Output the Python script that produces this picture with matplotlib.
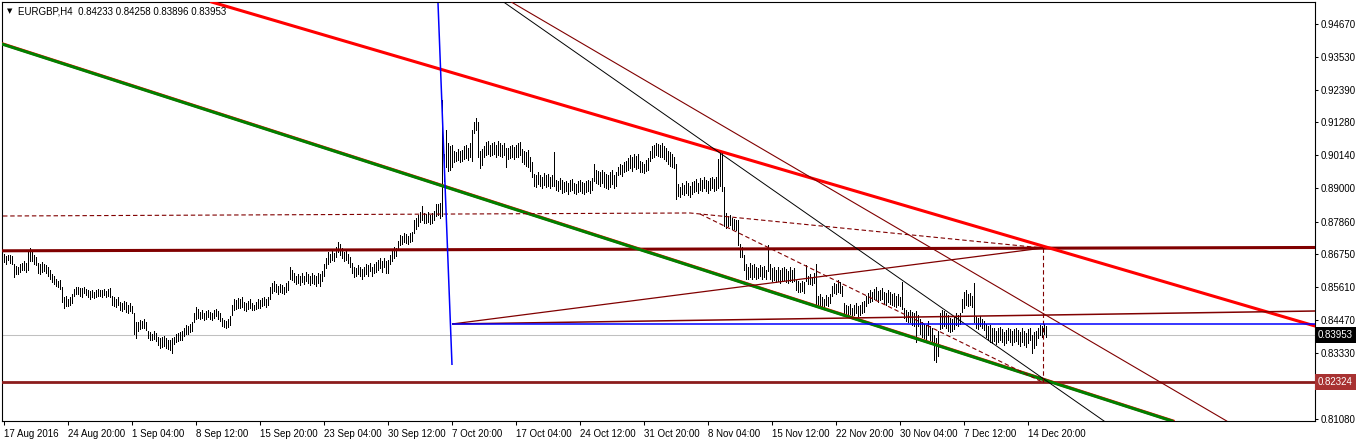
import numpy as np
import matplotlib
matplotlib.use("Agg")
import matplotlib.pyplot as plt
import matplotlib.transforms as mtransforms

plt.rcParams['font.family'] = ['Liberation Sans', 'DejaVu Sans']

# --- data (prices x 1e4), one H4 bar per entry ---
symbol = "EURGBP,H4"
last_ohlc = [0.84233, 0.84258, 0.83896, 0.83953]

highs = [
    8675, 8668, 8672, 8670, 8668, 8640, 8632, 8630, 8640, 8645,
    8650, 8642, 8680, 8695, 8680, 8672, 8665, 8645, 8640, 8648,
    8640, 8638, 8630, 8620, 8605, 8600, 8590, 8582, 8585, 8560,
    8525, 8530, 8520, 8528, 8535, 8555, 8562, 8560, 8556, 8558,
    8562, 8555, 8550, 8548, 8552, 8545, 8550, 8555, 8552, 8550,
    8555, 8548, 8553, 8556, 8530, 8525, 8520, 8528, 8510, 8505,
    8512, 8508, 8500, 8505, 8495, 8470, 8440, 8440, 8447, 8445,
    8450, 8440, 8410, 8405, 8400, 8408, 8402, 8390, 8385, 8388,
    8392, 8385, 8380, 8378, 8385, 8390, 8398, 8402, 8405, 8410,
    8420, 8430, 8425, 8435, 8440, 8470, 8492, 8485, 8475, 8480,
    8470, 8478, 8482, 8475, 8470, 8480, 8484, 8478, 8470, 8455,
    8448, 8445, 8450, 8460, 8500, 8520, 8515, 8522, 8518, 8525,
    8510, 8505, 8512, 8518, 8506, 8500, 8510, 8520, 8515, 8522,
    8528, 8520, 8525, 8560, 8575, 8580, 8570, 8565, 8572, 8568,
    8560, 8575, 8580, 8630, 8620, 8610, 8600, 8605, 8598, 8608,
    8600, 8612, 8605, 8600, 8608, 8602, 8598, 8610, 8605, 8615,
    8640, 8660, 8680, 8675, 8685, 8678, 8700, 8716, 8708, 8695,
    8680, 8685, 8675, 8665, 8645, 8630, 8625, 8635, 8630, 8622,
    8628, 8640, 8635, 8645, 8630, 8640, 8648, 8655, 8660, 8650,
    8662, 8650, 8655, 8670, 8685, 8700, 8695, 8720, 8740, 8735,
    8748, 8742, 8738, 8745, 8750, 8792, 8800, 8810, 8820, 8840,
    8815, 8812, 8818, 8808, 8815, 8822, 8848, 8845, 8850, 9205,
    9020, 9100, 9055, 9045, 9050, 9030, 9025, 9035, 9028, 9032,
    9045, 9050, 9040, 9055, 9100, 9130, 9143, 9128, 9030, 9035,
    9045, 9060, 9065, 9050, 9055, 9060, 9050, 9062, 9058, 9048,
    9055, 9040, 9040, 9045, 9050, 9042, 9048, 9055, 9060, 9035,
    9030, 9025, 9032, 9010, 8990, 8950, 8945, 8955, 8948, 8940,
    8952, 8945, 8950, 8940, 8948, 9025, 8930, 8925, 8935, 8928,
    8922, 8925, 8918, 8928, 8932, 8920, 8915, 8925, 8930, 8922,
    8918, 8926, 8930, 8924, 8935, 8985, 8965, 8960, 8955, 8965,
    8958, 8950, 8945, 8955, 8962, 8948, 8955, 8975, 8985, 8980,
    8990, 8995, 9005, 9015, 9010, 9020, 9012, 9018, 8995, 8990,
    8985, 8998, 9005, 9030, 9045, 9050, 9057, 9052, 9048, 9055,
    9045, 9040, 9030, 9025, 9020, 9010, 8985, 8915, 8905, 8920,
    8912, 8925, 8918, 8910, 8922, 8925, 8932, 8920, 8935, 8928,
    8938, 8930, 8925, 8935, 8940, 8932, 8938, 9000, 9033, 9025,
    8905, 8815, 8805, 8810, 8800, 8795, 8790, 8790, 8710, 8700,
    8670, 8640, 8630, 8645, 8635, 8640, 8630, 8625, 8635, 8628,
    8632, 8620, 8705, 8640, 8625, 8630, 8620, 8628, 8618, 8625,
    8630, 8622, 8615, 8628, 8620, 8626, 8585, 8580, 8575, 8582,
    8578, 8637, 8600, 8605, 8595, 8608, 8640, 8530, 8535, 8525,
    8520, 8532, 8528, 8538, 8565, 8575, 8570, 8585, 8578, 8565,
    8505, 8500, 8495, 8502, 8490, 8498, 8505, 8495, 8500, 8508,
    8512, 8530, 8540, 8550, 8545, 8555, 8560, 8548, 8552, 8558,
    8545, 8540, 8550, 8545, 8538, 8540, 8530, 8535, 8528, 8578,
    8490, 8480, 8475, 8482, 8475, 8470, 8478, 8465, 8450, 8440,
    8435, 8430, 8445, 8425, 8420, 8395, 8385, 8410, 8470, 8480,
    8478, 8470, 8465, 8455, 8450, 8462, 8470, 8465, 8472, 8520,
    8545, 8550, 8535, 8540, 8530, 8575, 8460, 8455, 8462, 8450,
    8445, 8435, 8425, 8430, 8420, 8420, 8410, 8418, 8422, 8415,
    8405, 8412, 8420, 8416, 8408, 8415, 8420, 8412, 8405, 8418,
    8410, 8402, 8415, 8420, 8395, 8405, 8410, 8420, 8430, 8425,
    8433, 8426]

lows = [
    8648, 8640, 8652, 8645, 8640, 8596, 8605, 8605, 8612, 8618,
    8620, 8612, 8620, 8650, 8650, 8640, 8635, 8610, 8606, 8612,
    8615, 8610, 8600, 8590, 8578, 8570, 8565, 8560, 8555, 8510,
    8488, 8495, 8497, 8500, 8505, 8530, 8535, 8538, 8530, 8528,
    8540, 8532, 8525, 8520, 8525, 8522, 8528, 8530, 8530, 8527,
    8532, 8526, 8530, 8528, 8500, 8495, 8492, 8500, 8480, 8478,
    8485, 8475, 8472, 8478, 8470, 8400, 8385, 8410, 8415, 8418,
    8420, 8412, 8385, 8380, 8378, 8383, 8375, 8360, 8350, 8355,
    8358, 8350, 8348, 8345, 8334, 8365, 8370, 8375, 8378, 8380,
    8392, 8400, 8398, 8405, 8410, 8440, 8450, 8455, 8450, 8455,
    8448, 8452, 8458, 8450, 8447, 8455, 8460, 8452, 8445, 8428,
    8422, 8420, 8424, 8430, 8465, 8480, 8485, 8490, 8488, 8492,
    8480, 8478, 8485, 8490, 8482, 8480, 8485, 8490, 8488, 8495,
    8500, 8492, 8498, 8520, 8540, 8548, 8542, 8538, 8545, 8540,
    8535, 8545, 8552, 8590, 8585, 8578, 8570, 8575, 8568, 8578,
    8572, 8580, 8575, 8568, 8574, 8570, 8565, 8575, 8565, 8580,
    8600, 8625, 8640, 8648, 8655, 8650, 8665, 8680, 8672, 8660,
    8650, 8655, 8645, 8630, 8610, 8595, 8600, 8605, 8600, 8590,
    8598, 8605, 8600, 8615, 8598, 8610, 8612, 8620, 8625, 8612,
    8630, 8610, 8608, 8640, 8650, 8660, 8668, 8690, 8705, 8710,
    8715, 8712, 8708, 8715, 8720, 8745, 8760, 8770, 8785, 8790,
    8780, 8782, 8785, 8778, 8782, 8790, 8805, 8810, 8800, 8805,
    8925, 8975, 8960, 8965, 8975, 8990, 8995, 8998, 8992, 8995,
    9000, 9005, 8998, 9010, 8995, 9090, 9100, 9010, 8970, 8980,
    9010, 9015, 9020, 9012, 9015, 9020, 9010, 9015, 9012, 9008,
    9015, 8975, 9000, 9005, 9010, 9002, 9008, 9010, 9015, 8990,
    8985, 8978, 8975, 8960, 8940, 8910, 8905, 8915, 8908, 8903,
    8912, 8905, 8910, 8902, 8908, 8910, 8895, 8890, 8898, 8886,
    8888, 8890, 8882, 8890, 8895, 8885, 8880, 8888, 8892, 8884,
    8880, 8888, 8893, 8885, 8895, 8925, 8920, 8915, 8910, 8920,
    8905, 8900, 8898, 8905, 8915, 8900, 8910, 8945, 8950, 8942,
    8955, 8960, 8965, 8970, 8960, 8975, 8968, 8972, 8958, 8955,
    8952, 8960, 8965, 8995, 9005, 9010, 9015, 9012, 9008, 9010,
    9000, 8995, 8985, 8978, 8975, 8970, 8865, 8875, 8870, 8880,
    8878, 8885, 8878, 8872, 8882, 8888, 8892, 8886, 8895, 8890,
    8900, 8892, 8886, 8895, 8900, 8890, 8895, 8900, 8910, 8890,
    8770, 8765, 8770, 8775, 8760, 8762, 8758, 8705, 8665, 8664,
    8620, 8590, 8588, 8595, 8590, 8595, 8588, 8592, 8598, 8590,
    8595, 8588, 8615, 8590, 8582, 8585, 8578, 8580, 8576, 8580,
    8585, 8578, 8575, 8582, 8578, 8580, 8550, 8545, 8542, 8548,
    8540, 8580, 8570, 8572, 8568, 8575, 8495, 8495, 8500, 8490,
    8492, 8498, 8495, 8505, 8530, 8540, 8535, 8545, 8540, 8530,
    8470, 8465, 8462, 8468, 8460, 8465, 8470, 8462, 8466, 8472,
    8475, 8495, 8505, 8510, 8512, 8518, 8520, 8510, 8515, 8520,
    8505, 8500, 8508, 8502, 8498, 8495, 8492, 8500, 8495, 8485,
    8455, 8445, 8440, 8440, 8430, 8425, 8372, 8428, 8400, 8390,
    8385, 8380, 8395, 8380, 8370, 8310, 8303, 8322, 8415, 8420,
    8425, 8418, 8410, 8405, 8410, 8415, 8430, 8425, 8435, 8475,
    8490, 8500, 8495, 8500, 8492, 8440, 8420, 8415, 8425, 8418,
    8413, 8390, 8380, 8372, 8368, 8375, 8365, 8370, 8380, 8372,
    8360, 8368, 8378, 8370, 8362, 8372, 8375, 8365, 8358, 8370,
    8362, 8355, 8368, 8378, 8335, 8350, 8360, 8385, 8395, 8390,
    8398, 8390]

date_labels = ["17 Aug 2016", "24 Aug 20:00", "1 Sep 04:00", "8 Sep 12:00",
               "15 Sep 20:00", "23 Sep 04:00", "30 Sep 12:00", "7 Oct 20:00",
               "17 Oct 04:00", "24 Oct 12:00", "31 Oct 20:00", "8 Nov 04:00",
               "15 Nov 12:00", "22 Nov 20:00", "30 Nov 04:00", "7 Dec 12:00",
               "14 Dec 20:00"]
label_step = 32

price_ticks = [0.94670, 0.93530, 0.92390, 0.91280, 0.90140, 0.89000, 0.87860,
               0.86750, 0.85610, 0.84470, 0.83330, 0.82220, 0.81080]

bid = 0.83953
support = 0.82324

# chart objects, anchors as (bar index, price)
red_trend = [(105.75, 0.95386), (655.75, 0.84265)]
green_trend = [(-0.25, 0.93974), (583.25, 0.81028)]
black_trend = [(250.75, 0.95386), (550.25, 0.80994)]
maroon_trend = [(254.75, 0.95386), (610.75, 0.81028)]
resistance = [(-0.75, 0.86854), (655.75, 0.86968)]
blue_steep = [(217.25, 0.95386), (224.25, 0.82922)]
blue_level = [(224.25, 0.84323), (655.75, 0.84323)]
fan_up = [(224.25, 0.84334), (519.75, 0.86950)]
fan_flat = [(224.25, 0.84334), (655.75, 0.84781)]
dash_a = [(-0.25, 0.88052), (343.25, 0.88156), (519.75, 0.86950)]
dash_b = [(348.25, 0.88121), (519.75, 0.82324)]
dash_v = [(519.75, 0.86950), (519.75, 0.82324)]

W, H = 1358, 443
fig = plt.figure(figsize=(W / 100, H / 100), dpi=100, facecolor="white")
ax = fig.add_axes([2 / W, 22 / H, 1313 / W, 419 / H])
ax.set_facecolor("white")

x = np.arange(len(highs))
hi = np.array(highs) / 10000
lo = np.array(lows) / 10000

ax.axhline(bid, color="#c0c0c0", lw=0.75, zorder=1)
ax.vlines(x, lo, hi, color="black", lw=0.5, antialiased=False, zorder=2)

def seg(pts, **kw):
    xs, ys = zip(*pts)
    ax.plot(xs, ys, solid_capstyle="butt", **kw)

seg(resistance, color="#800000", lw=2.2, zorder=3)
ax.axhline(support, color="#8b1c1c", lw=2.0, zorder=3)
ax.axline(*green_trend, color="red", lw=2.2, zorder=3.1)
gx, gy = zip(*green_trend)
ax.axline((gx[0], gy[0] - 0.00012), (gx[1], gy[1] - 0.00012), color="green", lw=2.2, zorder=3.2)
ax.axline(*red_trend, color="red", lw=2.2, zorder=3.3)
ax.axline(*black_trend, color="black", lw=0.7, zorder=3.4)
ax.axline(*maroon_trend, color="#800000", lw=0.8, zorder=3.4)
seg(fan_up, color="#800000", lw=0.9, zorder=3.4)
seg(fan_flat, color="#800000", lw=1.1, zorder=3.4)
seg(blue_level, color="blue", lw=1.1, zorder=3.5)
seg(blue_steep, color="blue", lw=1.1, zorder=3.5)
dash = (0, (4, 2.5))
seg(dash_a, color="#800000", lw=0.8, ls=dash, zorder=3.4)
seg(dash_b, color="#800000", lw=0.8, ls=dash, zorder=3.4)
seg(dash_v, color="#800000", lw=0.8, ls=dash, zorder=3.4)

ax.set_xlim(-0.75, 655.75)
ax.set_ylim(0.80994, 0.95420)

for s in ax.spines.values():
    s.set_color("black")
    s.set_linewidth(0.8)

ax.yaxis.tick_right()
ax.set_yticks(price_ticks)
ax.set_yticklabels([f"{p:.5f}" for p in price_ticks])
ax.tick_params(axis="y", direction="out", length=2.5, width=0.75, pad=1.5,
               labelsize=7, colors="black")

ax.set_xticks(x[::label_step][:len(date_labels)])
ax.set_xticklabels(date_labels)
ax.tick_params(axis="x", direction="out", length=3, width=0.75, pad=2.5,
               labelsize=7, colors="black")
for lbl in ax.get_xticklabels():
    lbl.set_ha("left")

trans = mtransforms.blended_transform_factory(ax.transAxes, ax.transData)
ax.text(1.0 + 3 / 1313, bid, f"{bid:.5f}", transform=trans, color="white",
        fontsize=7, va="center", ha="left", clip_on=False, zorder=5,
        bbox=dict(boxstyle="square,pad=0.3", fc="black", ec="none"))
ax.text(1.0 + 3 / 1313, support, f"{support:.5f}", transform=trans, color="white",
        fontsize=7, va="center", ha="left", clip_on=False, zorder=5,
        bbox=dict(boxstyle="square,pad=0.3", fc="#a83232", ec="none"))

title = symbol + "  " + " ".join(f"{v:.5f}" for v in last_ohlc)
fig.text(18 / W, 1 - 11 / H, title, fontsize=7, va="center", ha="left")
fig.text(9.5 / W, 1 - 11 / H, "\u25bc", fontsize=5, va="center", ha="center",
         family="DejaVu Sans")

fig.savefig("out.png", dpi=100, facecolor="white")
